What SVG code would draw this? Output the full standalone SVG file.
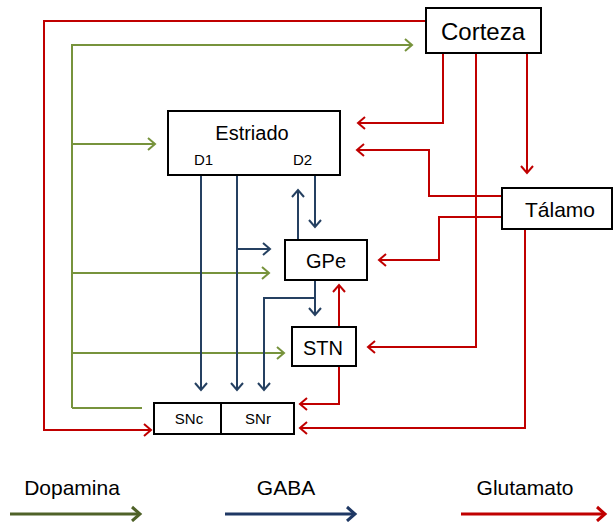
<svg xmlns="http://www.w3.org/2000/svg" width="613" height="522" viewBox="0 0 613 522">
<defs>
<style>
.box{fill:#fff;stroke:#000;stroke-width:2}
.t{font-family:"Liberation Sans",Arial,sans-serif;fill:#000;text-anchor:middle}
.r{fill:none;stroke:#c00000;stroke-width:2}
.g{fill:none;stroke:#77933c;stroke-width:2}
.b{fill:none;stroke:#254061;stroke-width:2}
.ar{marker-end:url(#mr)}
.ag{marker-end:url(#mg)}
.ab{marker-end:url(#mb)}
</style>
<marker id="mr" markerUnits="userSpaceOnUse" markerWidth="14" markerHeight="14" refX="10" refY="7" orient="auto" overflow="visible"><path d="M3,1 L10,7 L3,13" fill="none" stroke="#c00000" stroke-width="2"/></marker>
<marker id="mg" markerUnits="userSpaceOnUse" markerWidth="14" markerHeight="14" refX="10" refY="7" orient="auto" overflow="visible"><path d="M3,1 L10,7 L3,13" fill="none" stroke="#77933c" stroke-width="2"/></marker>
<marker id="mb" markerUnits="userSpaceOnUse" markerWidth="14" markerHeight="14" refX="10" refY="7" orient="auto" overflow="visible"><path d="M3,1 L10,7 L3,13" fill="none" stroke="#254061" stroke-width="2"/></marker>
<marker id="lg" markerUnits="userSpaceOnUse" markerWidth="16" markerHeight="16" refX="12" refY="8" orient="auto" overflow="visible"><path d="M4,1 L12,8 L4,15" fill="none" stroke="#4f6228" stroke-width="3"/></marker>
<marker id="lb" markerUnits="userSpaceOnUse" markerWidth="16" markerHeight="16" refX="12" refY="8" orient="auto" overflow="visible"><path d="M4,1 L12,8 L4,15" fill="none" stroke="#1f3864" stroke-width="3"/></marker>
<marker id="lr" markerUnits="userSpaceOnUse" markerWidth="16" markerHeight="16" refX="12" refY="8" orient="auto" overflow="visible"><path d="M4,1 L12,8 L4,15" fill="none" stroke="#c00000" stroke-width="3"/></marker>
</defs>
<rect width="613" height="522" fill="#fff"/>
<g id="connectors">
<path class="r ar" d="M426,21 H44 V430 H151"/>
<path class="r ar" d="M443,53 V123 H358"/>
<path class="r ar" d="M476,53 V347 H368"/>
<path class="r ar" d="M527,53 V173"/>
<path class="r ar" d="M502,196 H429 V150 H357"/>
<path class="r ar" d="M502,217 H439 V260 H379"/>
<path class="r ar" d="M525,230 V428 H300"/>
<path class="r ar" d="M339,327 V285"/>
<path class="r ar" d="M339,366 V404 H300"/>
<path class="g ag" d="M72,408 V45 H412"/>
<path class="g ag" d="M72,144 H155"/>
<path class="g ag" d="M72,273 H269"/>
<path class="g ag" d="M72,353 H284"/>
<path class="g" d="M72,408 H142"/>
<path class="b ab" d="M201,175 V390"/>
<path class="b ab" d="M237,175 V390"/>
<path class="b ab" d="M237,249 H270"/>
<path class="b ab" d="M298,240 V190"/>
<path class="b ab" d="M315,175 V227"/>
<path class="b ab" d="M315,280 V315"/>
<path class="b ab" d="M315,298 H264 V390"/>
</g>
<g id="corteza"><rect class="box" x="426" y="8" width="115" height="45"/><text class="t" x="483" y="40" font-size="24">Corteza</text></g>
<g id="estriado"><rect class="box" x="168" y="111" width="172" height="64"/><text class="t" x="252" y="140" font-size="20">Estriado</text><text class="t" x="203.5" y="165" font-size="15">D1</text><text class="t" x="302.5" y="165" font-size="15">D2</text></g>
<g id="talamo"><rect class="box" x="502" y="188" width="110" height="41"/><text class="t" x="560" y="217" font-size="21">Tálamo</text></g>
<g id="gpe"><rect class="box" x="285" y="240" width="82" height="40"/><text class="t" x="326" y="268" font-size="20">GPe</text></g>
<g id="stn"><rect class="box" x="292" y="327" width="64" height="39"/><text class="t" x="323" y="355" font-size="20">STN</text></g>
<g id="snc"><rect class="box" x="154" y="403" width="67" height="31"/><text class="t" x="189" y="424" font-size="15">SNc</text></g>
<g id="snr"><rect class="box" x="221" y="403" width="73" height="31"/><text class="t" x="258" y="424" font-size="15">SNr</text></g>
<g id="legend">
<text class="t" x="72" y="495" font-size="21">Dopamina</text>
<path d="M10,514 H140" fill="none" stroke="#4f6228" stroke-width="3" marker-end="url(#lg)"/>
<text class="t" x="286" y="495" font-size="21">GABA</text>
<path d="M225,514 H355" fill="none" stroke="#1f3864" stroke-width="3" marker-end="url(#lb)"/>
<text class="t" x="525" y="495" font-size="21">Glutamato</text>
<path d="M461,514 H605" fill="none" stroke="#c00000" stroke-width="3" marker-end="url(#lr)"/>
</g>
</svg>
